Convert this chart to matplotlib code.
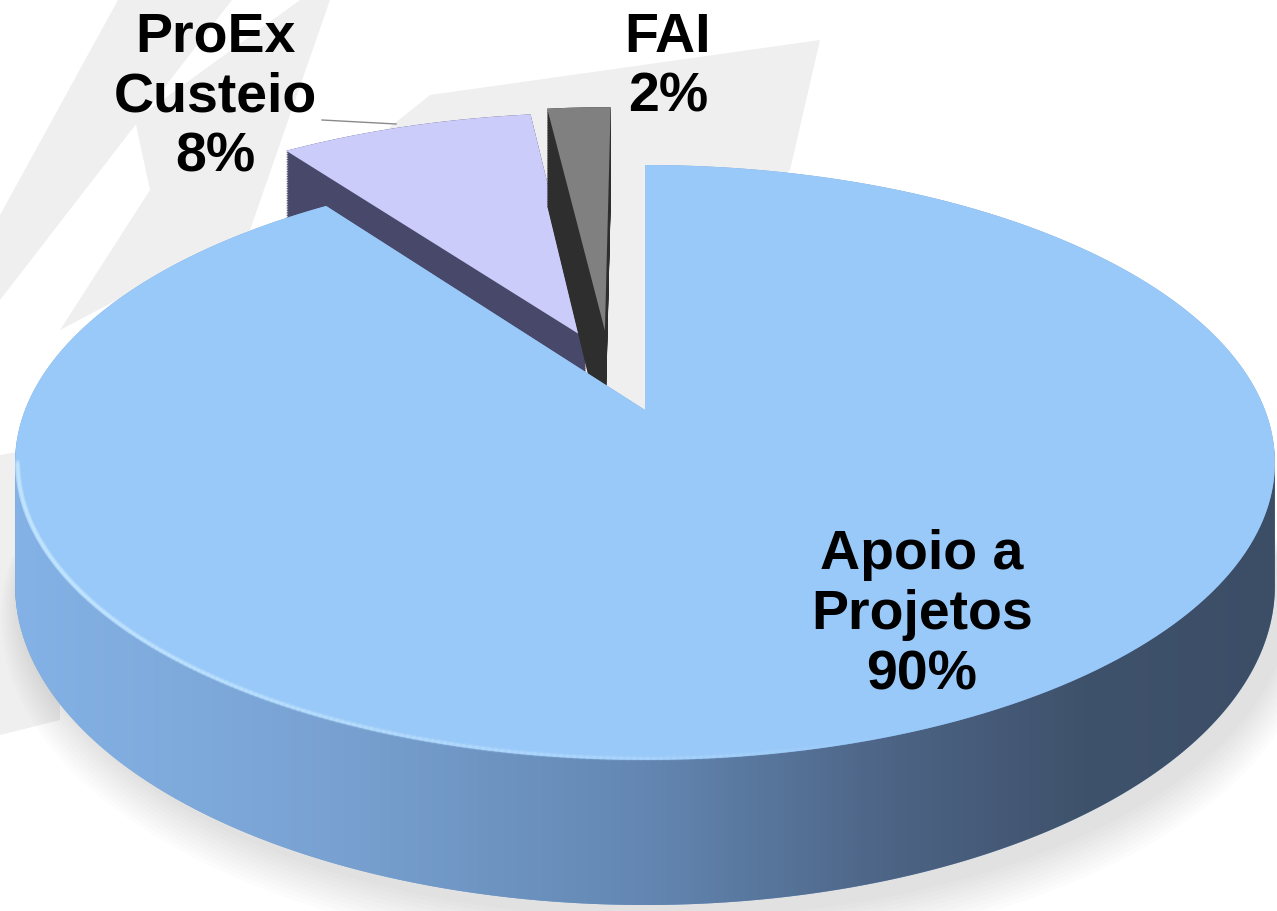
import numpy as np
import matplotlib.pyplot as plt
from matplotlib.colors import LinearSegmentedColormap
from matplotlib.collections import LineCollection
from matplotlib.patches import Polygon
from matplotlib.path import Path
from matplotlib.transforms import Transform

# dados do gráfico
categorias = ['Apoio a\nProjetos', 'ProEx\nCusteio', 'FAI']
valores = [90, 8, 2]
percentagens = ['90%', '8%', '2%']

cor_topo = ['#99c9f9', '#ccccfa', '#808080']
cor_lado = ['#7aa3d2', '#48486a', '#2e2e2e']

W, H = 1277, 911

# perspectiva do disco (em px): u,v no plano do disco -> x,y na imagem
R0 = 1000.0           # raio do pie em unidades "grandes" para o traçado das curvas
CX, CY = 645.0, 462.0
A, B, C, K = 620.0, 297.4, 52.0, 0.1765
D = 119.4             # espessura

# centro (no plano do disco) de cada fatia, ou seja o "explode"
centros = [(0.0, 0.0), (-0.10, 0.26), (-0.068, 0.29)]


class Perspectiva(Transform):
    input_dims = 2
    output_dims = 2
    is_separable = False
    has_inverse = False

    def __init__(self, dz=0.0):
        super().__init__()
        self.dz = dz

    def transform_non_affine(self, values):
        values = np.asarray(values, float)
        u = values[:, 0] / R0
        v = values[:, 1] / R0
        w = 1 + K * v
        return np.column_stack([CX + A * u / w, CY - (B * v + C) / w + self.dz / w])

    def transform_path_non_affine(self, path):
        polys = path.to_polygons()
        return Path.make_compound_path(*[Path(self.transform_non_affine(p)) for p in polys])


fig = plt.figure(figsize=(W / 100, H / 100), dpi=100)
ax = fig.add_axes([0, 0, 1, 1])

# marca d'água de fundo (setas cinzentas claras)
fundo = '#efefef'
for pts in [[(0, 300), (0, 215), (118, 0), (232, 0)],
            [(60, 330), (150, 190), (135, 120), (300, 0), (330, 0), (250, 230)],
            [(330, 175), (430, 95), (820, 40), (790, 170), (660, 280), (650, 420),
             (600, 420)],
            [(0, 455), (60, 445), (60, 720), (0, 735)]]:
    ax.add_patch(Polygon(pts, closed=True, fc=fundo, ec='none', zorder=0.1))

# sombra suave por baixo (só a metade da frente)
for k in range(10):
    ws, _ = ax.pie([1, 1], radius=R0 * (1 + 0.004 * k), center=(0.02 * R0, -0.03 * R0),
                   startangle=0, colors=['none', '#000000'],
                   wedgeprops=dict(linewidth=0, alpha=0.012), frame=True)
    for w in ws:
        w.set_transform(Perspectiva(D + 2 * k) + ax.transData)


def fatia(i, dz, cores, z):
    # desenha só a fatia i (as outras ficam transparentes)
    cs = ['none'] * len(valores)
    cs[i] = cores[i]
    cu, cv = centros[i]
    ws, _ = ax.pie(valores, startangle=90, counterclock=False, colors=cs,
                   center=(cu * R0, cv * R0), radius=R0, frame=True,
                   wedgeprops=dict(linewidth=0))
    for w in ws:
        w.set_transform(Perspectiva(dz) + ax.transData)
        w.set_zorder(z)


camadas = np.linspace(D, 0, 60)

# fatias pequenas (atrás): lados e depois topo
for i in [1, 2]:
    for dz in camadas:
        fatia(i, dz, cor_lado, 1)
    fatia(i, 0.0, cor_topo, 1)

# fatia grande: lados
for dz in camadas:
    fatia(0, dz, cor_lado, 1.5)

# gradiente na parede frontal da fatia grande
tL, tR = np.pi + np.arcsin(K), 2 * np.pi - np.arcsin(K)
t = np.linspace(tL, tR, 400)
arco = np.c_[np.cos(t), np.sin(t)] * R0
topo = Perspectiva(0).transform_non_affine(arco)
base = Perspectiva(D).transform_non_affine(arco)
poly = Polygon(np.concatenate([topo, base[::-1]]), closed=True, fc='none', ec='none')
ax.add_patch(poly)
cmap = LinearSegmentedColormap.from_list(
    'lado', [(0, '#84b2e6'), (0.25, '#79a2d2'), (0.5, '#6387b2'),
             (0.7, '#4c6384'), (0.85, '#3f526c'), (1, '#3c4e66')])
grad = np.linspace(0, 1, 512)[None, :]
img = ax.imshow(grad, cmap=cmap, extent=[15, 1276, H, 0], aspect='auto', zorder=2)
img.set_clip_path(poly)

# topo da fatia grande
fatia(0, 0.0, cor_topo, 3)

# brilho na aresta frontal, a desvanecer para a direita
t2 = np.linspace(tL, 1.62 * np.pi, 200)
brilho = Perspectiva(0).transform_non_affine(np.c_[np.cos(t2), np.sin(t2)] * R0 * 0.996)
segs = np.stack([brilho[:-1], brilho[1:]], axis=1)
alfa = np.clip(1.3 - np.linspace(0, 1, len(segs)) * 1.3, 0, 1)
for lw, a in [(4, 0.25), (2, 0.65)]:
    cores = [(0.77, 0.9, 1.0, a * f) for f in alfa]
    ax.add_collection(LineCollection(segs, colors=cores, linewidths=lw, zorder=4,
                                     capstyle='round'))

ax.set_aspect('auto')
ax.set_xlim(0, W)
ax.set_ylim(H, 0)
ax.axis('off')

# rótulos
fonte = dict(family='Liberation Sans', weight='bold', size=40, ha='center',
             va='center', linespacing=1.2, color='black', zorder=6)
pos_rotulos = [(922, 615), (215, 98), (668, 68)]
for cat, pct, (px, py) in zip(categorias, percentagens, pos_rotulos):
    ax.text(px, py, cat + '\n' + pct, **fonte)

# linha de ligação do rótulo ProEx
ax.plot([322, 396], [120, 124], color='#8a8a8a', lw=1, zorder=5)

fig.savefig('out.png', dpi=100)
